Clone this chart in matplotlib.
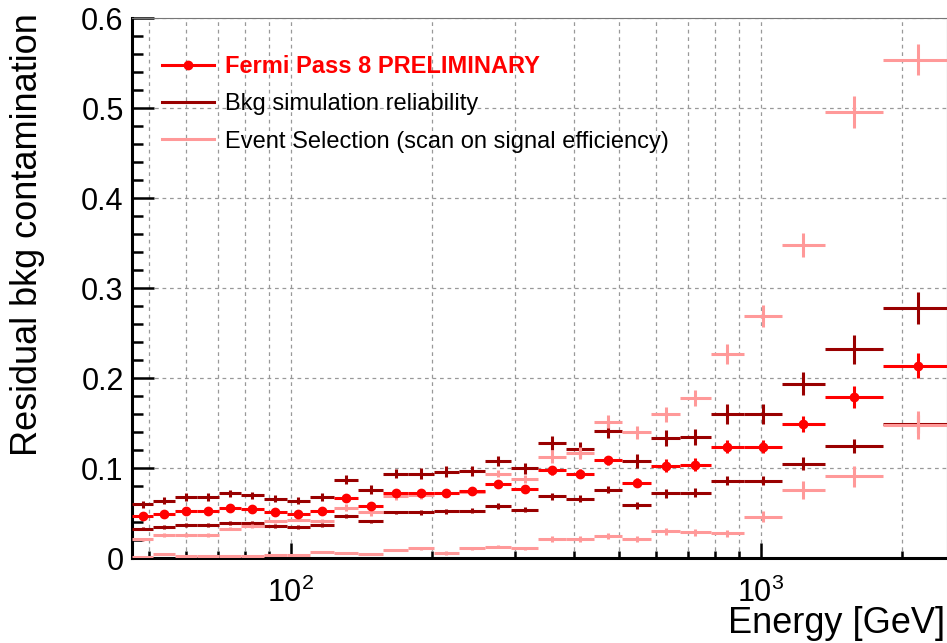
import numpy as np
import matplotlib
matplotlib.use("Agg")
import matplotlib.pyplot as plt
from matplotlib.lines import Line2D
from matplotlib.ticker import LogLocator, NullFormatter, FixedLocator, FuncFormatter

plt.rcParams['font.family'] = ['Liberation Sans', 'DejaVu Sans']
plt.rcParams['mathtext.default'] = 'regular'

# ---- data ----
# energy bin edges [GeV]
edges = np.array([46, 51, 56.7, 63.1, 70.4, 78.5, 87.6, 98.1, 110, 123.7, 139.4, 157.3,
                  177.8, 201.4, 228.5, 259.3, 294.8, 336.2, 384.7, 441.6, 507.7, 584.8,
                  674, 783, 922, 1108, 1368, 1822, 2549])

fermi = [0.047, 0.049, 0.052, 0.052, 0.056, 0.055, 0.051, 0.049, 0.053, 0.067, 0.058, 0.073,
         0.072, 0.073, 0.075, 0.083, 0.077, 0.098, 0.094, 0.109, 0.084, 0.103, 0.104, 0.124,
         0.124, 0.149, 0.179, 0.214]
fermi_err = [0.003, 0.003, 0.003, 0.003, 0.003, 0.003, 0.003, 0.003, 0.003, 0.003, 0.003, 0.003,
             0.004, 0.004, 0.004, 0.004, 0.004, 0.005, 0.005, 0.005, 0.005, 0.007, 0.007, 0.007,
             0.007, 0.009, 0.012, 0.014]

bkg_hi = [0.060, 0.064, 0.068, 0.068, 0.072, 0.070, 0.066, 0.064, 0.068, 0.087, 0.076, 0.094,
          0.094, 0.096, 0.097, 0.108, 0.100, 0.128, 0.121, 0.142, 0.108, 0.134, 0.135, 0.160,
          0.160, 0.194, 0.232, 0.278]
bkg_hi_err = [0.004, 0.004, 0.004, 0.004, 0.004, 0.004, 0.004, 0.004, 0.004, 0.005, 0.005, 0.005,
              0.006, 0.006, 0.006, 0.006, 0.006, 0.008, 0.008, 0.008, 0.008, 0.009, 0.009, 0.011,
              0.011, 0.013, 0.016, 0.018]

bkg_lo = [0.033, 0.035, 0.037, 0.037, 0.039, 0.039, 0.036, 0.035, 0.037, 0.047, 0.041, 0.051,
          0.051, 0.052, 0.053, 0.058, 0.054, 0.069, 0.066, 0.076, 0.059, 0.072, 0.073, 0.086,
          0.086, 0.105, 0.125, 0.149]
bkg_lo_err = [0.002, 0.002, 0.002, 0.002, 0.002, 0.002, 0.002, 0.002, 0.002, 0.002, 0.002, 0.002,
              0.003, 0.003, 0.003, 0.003, 0.003, 0.004, 0.004, 0.004, 0.004, 0.005, 0.005, 0.005,
              0.005, 0.007, 0.008, 0.010]

sel_hi = [0.021, 0.026, 0.026, 0.026, 0.033, 0.036, 0.041, 0.043, 0.042, 0.056, 0.051, 0.069,
          0.070, 0.072, 0.074, 0.094, 0.088, 0.113, 0.117, 0.152, 0.140, 0.160, 0.178, 0.227,
          0.269, 0.348, 0.496, 0.554]
sel_hi_err = [0.002, 0.002, 0.002, 0.002, 0.002, 0.002, 0.002, 0.002, 0.002, 0.004, 0.004, 0.004,
              0.004, 0.004, 0.004, 0.004, 0.004, 0.007, 0.007, 0.007, 0.007, 0.008, 0.009, 0.011,
              0.012, 0.013, 0.018, 0.017]

sel_lo = [0.0015, 0.005, 0.003, 0.003, 0.003, 0.003, 0.0033, 0.0037, 0.0073, 0.0056, 0.0044, 0.0089,
          0.011, 0.0056, 0.011, 0.013, 0.011, 0.0215, 0.0215, 0.025, 0.0215, 0.030, 0.029, 0.028,
          0.046, 0.076, 0.091, 0.148]
sel_lo_err = [0.001, 0.001, 0.001, 0.001, 0.001, 0.001, 0.001, 0.001, 0.001, 0.001, 0.001, 0.001,
              0.002, 0.002, 0.002, 0.002, 0.002, 0.003, 0.003, 0.003, 0.003, 0.004, 0.004, 0.004,
              0.006, 0.010, 0.012, 0.016]

labels = ["Fermi Pass 8 PRELIMINARY", "Bkg simulation reliability",
          "Event Selection (scan on signal efficiency)"]

RED = '#ff0000'
DARK = '#990000'
PINK = '#ff9999'

# bin centres / half widths on log scale
centers = np.sqrt(edges[:-1] * edges[1:])
xerr = [centers - edges[:-1], edges[1:] - centers]

fig = plt.figure(figsize=(9.47, 6.43), dpi=100)
ax = fig.add_axes([132/947, 1 - 558.3/643, 815/947, 540/643])

lw = 2.2
for vals, errs, col in [(bkg_hi, bkg_hi_err, DARK), (bkg_lo, bkg_lo_err, DARK),
                        (sel_hi, sel_hi_err, PINK), (sel_lo, sel_lo_err, PINK)]:
    ax.errorbar(centers, vals, xerr=xerr, yerr=errs, fmt='none', ecolor=col,
                elinewidth=lw, capsize=0, zorder=3)
ax.errorbar(centers, fermi, xerr=xerr, yerr=fermi_err, fmt='o', color=RED, ms=6,
            ecolor=RED, elinewidth=lw, capsize=0, zorder=4)

ax.set_xscale('log')
ax.set_xlim(46, 2490)
ax.set_ylim(0, 0.6)

# ticks in ROOT style
ax.yaxis.set_major_locator(FixedLocator([0, 0.1, 0.2, 0.3, 0.4, 0.5, 0.6]))
ax.yaxis.set_minor_locator(FixedLocator(np.arange(0, 0.601, 0.02)))
ax.yaxis.set_major_formatter(FuncFormatter(lambda v, p: '%g' % v))
ax.xaxis.set_major_locator(FixedLocator([100, 1000]))
ax.xaxis.set_major_formatter(FuncFormatter(lambda v, p: r'$10^{%d}$' % round(np.log10(v))))
ax.xaxis.set_minor_locator(LogLocator(base=10, subs=np.arange(2, 10)))
ax.xaxis.set_minor_formatter(NullFormatter())

ax.tick_params(axis='y', which='major', direction='in', length=16, width=1.8,
               labelsize=22, pad=6)
ax.tick_params(axis='y', which='minor', direction='in', length=8, width=1.8)
ax.tick_params(axis='x', which='major', direction='in', length=11, width=1.8,
               labelsize=22, pad=14)
ax.tick_params(axis='x', which='minor', direction='in', length=5, width=1.8)

ax.grid(True, which='both', axis='x', ls=(0, (3, 3)), color='#999999', lw=0.9)
ax.grid(True, which='major', axis='y', ls=(0, (3, 3)), color='#999999', lw=0.9)

for s in ['left', 'bottom']:
    ax.spines[s].set_linewidth(2.2)
for s in ['top', 'right']:
    ax.spines[s].set_linewidth(0.8)
    ax.spines[s].set_color('#777777')

fig.text(28/947, 1 - 13/643, "Residual bkg contamination", rotation=90,
         ha='center', va='top', fontsize=26)
fig.text(945/947, 0.003, "Energy [GeV]", ha='right', va='bottom', fontsize=26)

handles = [Line2D([], [], color=RED, lw=lw, marker='o', ms=6),
           Line2D([], [], color=DARK, lw=lw),
           Line2D([], [], color=PINK, lw=lw)]
leg = ax.legend(handles, labels, loc='upper left', bbox_to_anchor=(162/947, 1 - 55/643),
                bbox_transform=fig.transFigure, frameon=False, fontsize=17,
                handlelength=2.2, handletextpad=0.45, labelspacing=0.65,
                borderpad=0, borderaxespad=0)
leg.get_texts()[0].set_color(RED)
leg.get_texts()[0].set_fontweight('bold')

fig.savefig('out.png', dpi=100)
